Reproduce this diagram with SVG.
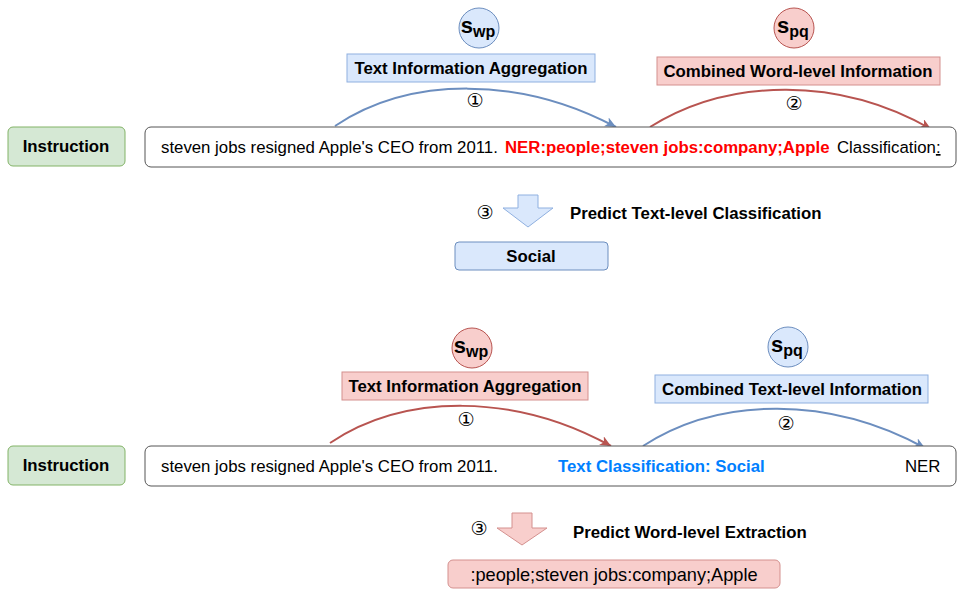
<svg xmlns="http://www.w3.org/2000/svg" width="965" height="602" viewBox="0 0 965 602">
<style>
text{font-family:"Liberation Sans",Arial,sans-serif;fill:#000}
.b{font-weight:bold;font-size:16.8px}
.r{font-size:16.8px}
.num{font-family:"DejaVu Sans",sans-serif;font-size:19px}
.blue{fill:#dae8fc;stroke:#6c8ebf}
.red{fill:#f8cecc;stroke:#b85450}
.bluel{fill:#dae8fc;stroke:#8fb0e0}
.redl{fill:#f8cecc;stroke:#d4908e}
.green{fill:#d5e8d4;stroke:#82b366}
.main{fill:#fff;stroke:#555}
.cb{fill:none;stroke:#6c8ebf;stroke-width:2}
.cr{fill:none;stroke:#b85450;stroke-width:2}
</style>
<defs>
<marker id="ab" markerWidth="12" markerHeight="10" refX="11" refY="5" orient="auto" markerUnits="userSpaceOnUse"><path d="M0,0 L11,5 L0,10 L3,5 z" fill="#6c8ebf"/></marker>
<marker id="ar" markerWidth="12" markerHeight="10" refX="11" refY="5" orient="auto" markerUnits="userSpaceOnUse"><path d="M0,0 L11,5 L0,10 L3,5 z" fill="#b85450"/></marker>
</defs>

<g id="connectors">
<path class="cb" d="M335,126 C410,76 520,76 616,127" marker-end="url(#ab)"/>
<path class="cr" d="M650,127 C730,77 840,77 931,129" marker-end="url(#ar)"/>
<path class="cr" d="M330,443 C405,393 515,393 611,446" marker-end="url(#ar)"/>
<path class="cb" d="M643,446 C720,396 830,396 925,448" marker-end="url(#ab)"/>
</g>

<!-- top section -->
<g id="swp1"><circle class="blue" cx="479" cy="28" r="20"/><text class="b" x="478" y="33" text-anchor="middle"><tspan font-size="22">s</tspan><tspan font-size="16" dy="4">wp</tspan></text></g>
<g id="tia1"><rect class="bluel" x="347" y="54" width="248" height="28"/><text class="b" x="471" y="74" text-anchor="middle">Text Information Aggregation</text></g>
<g id="n1a"><text class="num" x="475" y="107" text-anchor="middle">①</text></g>
<g id="spq1"><circle class="red" cx="794" cy="28" r="20"/><text class="b" x="793" y="33" text-anchor="middle"><tspan font-size="22">s</tspan><tspan font-size="16" dy="4">pq</tspan></text></g>
<g id="cwi1"><rect class="redl" x="657" y="57" width="283" height="28"/><text class="b" x="798" y="77" text-anchor="middle">Combined Word-level Information</text></g>
<g id="n2a"><text class="num" x="794" y="110" text-anchor="middle">②</text></g>
<g id="instr1"><rect class="green" x="8" y="127" width="117" height="39" rx="5"/><text class="b" x="66" y="152" text-anchor="middle">Instruction</text></g>
<g id="main1"><rect class="main" x="145" y="127" width="811" height="40" rx="6"/>
<text class="r" x="161" y="153">steven jobs resigned Apple's CEO from 2011.</text>
<text class="b" x="505" y="153" style="fill:#ff0000">NER:people;steven jobs:company;Apple</text>
<text class="r" x="837" y="153">Classification<tspan text-decoration="underline">:</tspan></text></g>
<g id="arrow1"><path class="bluel" d="M518,195 L538,195 L538,208 L553,208 L528,227 L503,208 L518,208 z"/></g>
<g id="n3a"><text class="num" x="485" y="219" text-anchor="middle">③</text></g>
<g id="ptc"><text class="b" x="570" y="219">Predict Text-level Classification</text></g>
<g id="social"><rect class="blue" x="455" y="242" width="153" height="28" rx="4"/><text class="b" x="531" y="262" text-anchor="middle">Social</text></g>

<!-- bottom section -->
<g id="swp2"><circle class="red" cx="472" cy="348" r="20"/><text class="b" x="471" y="353" text-anchor="middle"><tspan font-size="22">s</tspan><tspan font-size="16" dy="4">wp</tspan></text></g>
<g id="tia2"><rect class="redl" x="342" y="372" width="246" height="28"/><text class="b" x="465" y="392" text-anchor="middle">Text Information Aggregation</text></g>
<g id="n1b"><text class="num" x="466" y="426" text-anchor="middle">①</text></g>
<g id="spq2"><circle class="blue" cx="788" cy="347" r="20"/><text class="b" x="787" y="352" text-anchor="middle"><tspan font-size="22">s</tspan><tspan font-size="16" dy="4">pq</tspan></text></g>
<g id="cti2"><rect class="bluel" x="655" y="375" width="273" height="28"/><text class="b" x="792" y="395" text-anchor="middle">Combined Text-level Information</text></g>
<g id="n2b"><text class="num" x="786" y="430" text-anchor="middle">②</text></g>
<g id="instr2"><rect class="green" x="8" y="446" width="117" height="39" rx="5"/><text class="b" x="66" y="471" text-anchor="middle">Instruction</text></g>
<g id="main2"><rect class="main" x="145" y="446" width="811" height="40" rx="6"/>
<text class="r" x="161" y="472">steven jobs resigned Apple's CEO from 2011.</text>
<text class="b" x="558" y="472" style="fill:#007fff">Text Classification: Social</text>
<text class="r" x="905" y="472">NER</text></g>
<g id="arrow2"><path class="redl" d="M512,513 L532,513 L532,528 L547,528 L522,545 L497,528 L512,528 z"/></g>
<g id="n3b"><text class="num" x="479" y="535" text-anchor="middle">③</text></g>
<g id="pwe"><text class="b" x="573" y="538">Predict Word-level Extraction</text></g>
<g id="result"><rect class="redl" x="448" y="560" width="332" height="28" rx="5"/><text x="614" y="581" font-size="18.2" text-anchor="middle">:people;steven jobs:company;Apple</text></g>
</svg>
